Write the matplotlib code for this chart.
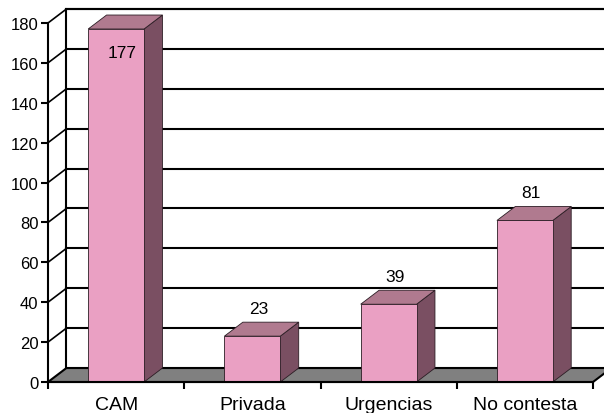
import matplotlib
matplotlib.use("Agg")
import matplotlib.pyplot as plt
from matplotlib.patches import Polygon, Rectangle

plt.rcParams['font.family'] = ['Liberation Sans', 'DejaVu Sans']

# datos
categorias = ['CAM', 'Privada', 'Urgencias', 'No contesta']
valores = [177, 23, 39, 81]
niveles = [0, 20, 40, 60, 80, 100, 120, 140, 160, 180]

# colores tipo Excel 3D
frente = '#EAA0C3'
techo = '#B07A8F'
lado = '#7A4F62'

fig = plt.figure(figsize=(6.04, 4.14), dpi=100)
ax = fig.add_axes([48 / 604, 31 / 414, 545 / 604, 359 / 414])
ax.set_xlim(-0.5, 3.5)
ax.set_ylim(0, 180)

dx = 0.135   # profundidad en x (unidades de categoria)
dy = 7.0     # profundidad en y (unidades del eje)
ancho = 0.41

# pared del fondo
ax.add_patch(Rectangle((-0.5 + dx, dy), 4, 180, facecolor='white', edgecolor='black',
                       lw=1.5, clip_on=False, zorder=1))
# lineas de division (fondo y pared izquierda)
for v in niveles[1:]:
    ax.plot([-0.5 + dx, 3.5 + dx], [v + dy, v + dy], color='black', lw=1.5,
            clip_on=False, zorder=1.5)
    ax.plot([-0.5, -0.5 + dx], [v, v + dy], color='black', lw=1.2,
            clip_on=False, zorder=1.5)

# suelo
ax.add_patch(Polygon([(-0.5, 0), (3.5, 0), (3.5 + dx, dy), (-0.5 + dx, dy)],
                     closed=True, facecolor='#808080', edgecolor='black', lw=1.5,
                     clip_on=False, zorder=2))

# barras
for i, v in enumerate(valores):
    x0 = i - ancho / 2
    x1 = i + ancho / 2
    ax.add_patch(Polygon([(x1, 0), (x1 + dx, dy), (x1 + dx, v + dy), (x1, v)], closed=True,
                         facecolor=lado, edgecolor='#2b1d24', lw=0.6, clip_on=False, zorder=3))
    ax.add_patch(Polygon([(x0, v), (x1, v), (x1 + dx, v + dy), (x0 + dx, v + dy)], closed=True,
                         facecolor=techo, edgecolor='#2b1d24', lw=0.6, clip_on=False, zorder=3))
    ax.add_patch(Rectangle((x0, 0), ancho, v, facecolor=frente, edgecolor='#2b1d24',
                           lw=0.6, clip_on=False, zorder=3.5))
    if v + 14 < 180:
        ty = v + 14
    else:
        ty = v - 12
    ax.text(i + dx / 2 - 0.02, ty, str(v), ha='center', va='center', fontsize=12.5,
            color='black', zorder=5)

# ejes
for s in ['top', 'right']:
    ax.spines[s].set_visible(False)
ax.spines['left'].set_linewidth(1.5)
ax.spines['bottom'].set_linewidth(1.5)
ax.spines['left'].set_zorder(4)
ax.spines['bottom'].set_zorder(4)
ax.patch.set_visible(False)

ax.set_yticks(niveles)
ax.tick_params(axis='y', length=5, width=1.5, direction='out', labelsize=12, pad=2)

ax.set_xticks([-0.5, 0.5, 1.5, 2.5, 3.5])
ax.set_xticklabels([''] * 5)
ax.tick_params(axis='x', which='major', length=5, width=1.5, direction='out')
ax.set_xticks(range(len(categorias)), minor=True)
ax.set_xticklabels(categorias, minor=True)
ax.tick_params(axis='x', which='minor', length=0, labelsize=14, pad=10)

fig.savefig('out.png', dpi=100, facecolor='white')
